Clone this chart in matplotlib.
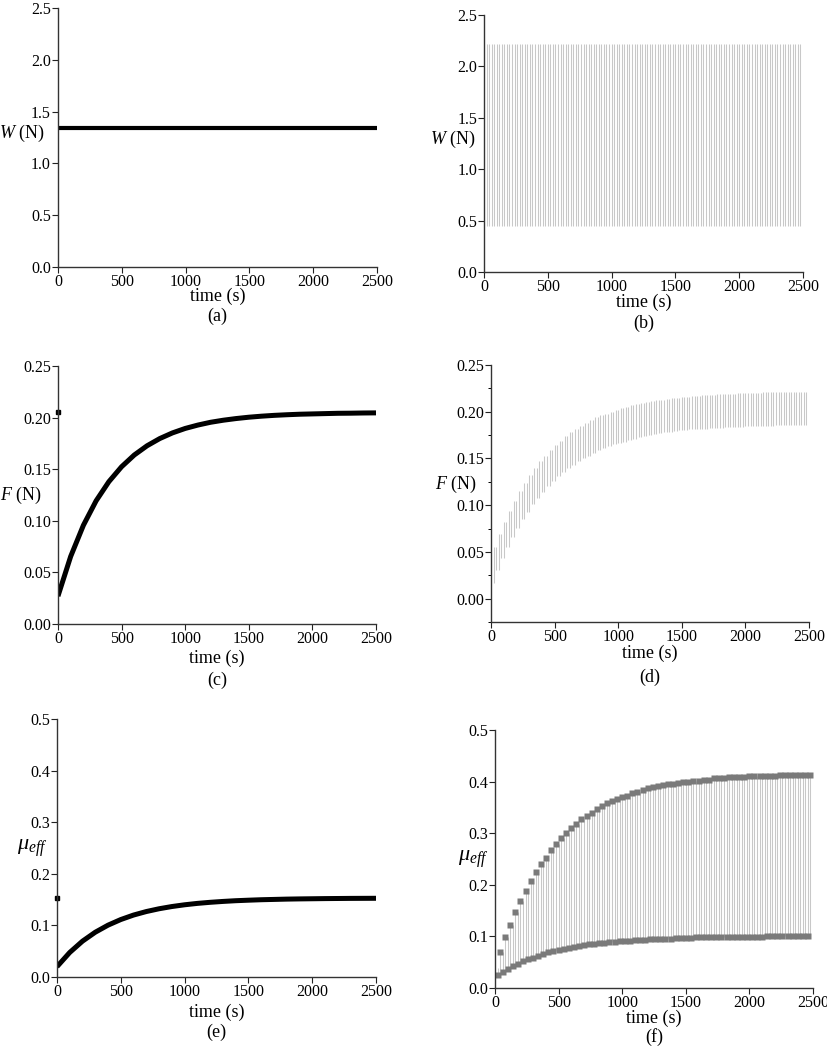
import numpy as np
import matplotlib
matplotlib.use("Agg")
import matplotlib.pyplot as plt
from matplotlib.ticker import MultipleLocator

plt.rcParams['font.family'] = ['Liberation Serif', 'DejaVu Serif']
plt.rcParams['mathtext.fontset'] = 'custom'
plt.rcParams['mathtext.rm'] = 'Liberation Serif'
plt.rcParams['mathtext.it'] = 'Liberation Serif:italic'

# (a) constant normal load
w_a_time = [0, 2500]
w_a = [1.34, 1.34]

# (b) oscillating normal load, half-period 20 s
w_low = 0.45
w_high = 2.22

# (c) friction force, constant load (every 100 s)
f_c = [0.0270, 0.0655, 0.0957, 0.1194, 0.1379, 0.1524, 0.1638, 0.1727, 0.1797,
       0.1852, 0.1895, 0.1928, 0.1955, 0.1975, 0.1991, 0.2004, 0.2014, 0.2022,
       0.2028, 0.2033, 0.2036, 0.2039, 0.2042, 0.2043, 0.2045, 0.2046]
f_c_dot = 0.205

# (d) friction force, oscillating load: lower (t = 0, 40, ...) / upper (t = 20, 60, ...)
f_d_low = [0.017, 0.031, 0.044, 0.055, 0.066, 0.076, 0.085, 0.093, 0.101, 0.108,
           0.114, 0.120, 0.126, 0.131, 0.135, 0.140, 0.143, 0.147, 0.150, 0.153,
           0.156, 0.159, 0.161, 0.163, 0.165, 0.167, 0.168, 0.170, 0.171, 0.173,
           0.174, 0.175, 0.176, 0.177, 0.178, 0.178, 0.179, 0.180, 0.180, 0.181,
           0.181, 0.182, 0.182, 0.183, 0.183, 0.183, 0.184, 0.184, 0.184, 0.184,
           0.185, 0.185, 0.185, 0.185, 0.185, 0.185, 0.186, 0.186, 0.186, 0.186,
           0.186, 0.186, 0.186]
f_d_high = [0.055, 0.069, 0.082, 0.094, 0.105, 0.115, 0.124, 0.132, 0.140, 0.147,
            0.153, 0.159, 0.164, 0.169, 0.174, 0.178, 0.182, 0.185, 0.188, 0.191,
            0.194, 0.196, 0.198, 0.200, 0.202, 0.204, 0.205, 0.207, 0.208, 0.209,
            0.210, 0.211, 0.212, 0.213, 0.214, 0.215, 0.215, 0.216, 0.216, 0.217,
            0.217, 0.218, 0.218, 0.218, 0.219, 0.219, 0.219, 0.219, 0.220, 0.220,
            0.220, 0.220, 0.220, 0.221, 0.221, 0.221, 0.221, 0.221, 0.221, 0.221,
            0.221, 0.221]

# (e) effective friction coefficient, constant load (every 100 s)
mu_e = [0.0200, 0.0476, 0.0695, 0.0868, 0.1005, 0.1114, 0.1201, 0.1269, 0.1323,
        0.1366, 0.1400, 0.1427, 0.1448, 0.1465, 0.1479, 0.1489, 0.1498, 0.1504,
        0.1510, 0.1514, 0.1517, 0.1520, 0.1522, 0.1524, 0.1525, 0.1526]
mu_e_dot = 0.153

# (f) effective friction coefficient, oscillating load
mu_f_high = [0.038, 0.069, 0.098, 0.122, 0.147, 0.169, 0.189, 0.207, 0.224, 0.240,
             0.253, 0.267, 0.280, 0.291, 0.300, 0.311, 0.318, 0.327, 0.333, 0.340,
             0.347, 0.353, 0.358, 0.362, 0.367, 0.371, 0.373, 0.378, 0.380, 0.384,
             0.387, 0.389, 0.391, 0.393, 0.396, 0.396, 0.398, 0.400, 0.400, 0.402,
             0.402, 0.404, 0.404, 0.407, 0.407, 0.407, 0.409, 0.409, 0.409, 0.409,
             0.411, 0.411, 0.411, 0.411, 0.411, 0.411, 0.413, 0.413, 0.413, 0.413,
             0.413, 0.413, 0.413]
mu_f_low = [0.025, 0.031, 0.037, 0.042, 0.047, 0.052, 0.056, 0.059, 0.063, 0.066,
            0.069, 0.072, 0.074, 0.076, 0.078, 0.080, 0.082, 0.083, 0.085, 0.086,
            0.087, 0.088, 0.089, 0.090, 0.091, 0.092, 0.092, 0.093, 0.094, 0.094,
            0.095, 0.095, 0.095, 0.096, 0.096, 0.097, 0.097, 0.097, 0.097, 0.098,
            0.098, 0.098, 0.098, 0.098, 0.099, 0.099, 0.099, 0.099, 0.099, 0.099,
            0.099, 0.099, 0.099, 0.100, 0.100, 0.100, 0.100, 0.100, 0.100, 0.100,
            0.100, 0.100]

t_step = 100
half_period = 20
osc_color = '#c8c8c8'


def interleave(first, second):
    n = len(first) + len(second)
    t = np.arange(n) * half_period
    y = np.empty(n)
    y[0::2] = first
    y[1::2] = second
    return t, y


def osc_lines(ax, t, y):
    # each swing of the load cycle drawn as an almost vertical stroke
    lo = np.minimum(y[:-1], y[1:])
    hi = np.maximum(y[:-1], y[1:])
    ax.vlines(t[1:], lo, hi, color=osc_color, lw=0.75)


def style(ax, ylim, ymajor, fmt, ylabel, lab_xy, letter, xl_y, let_y, yminor=None,
          ylab_size=13):
    ax.set_xlim(0, 2500)
    ax.set_ylim(*ylim)
    ax.xaxis.set_major_locator(MultipleLocator(500))
    ax.yaxis.set_major_locator(MultipleLocator(ymajor))
    if yminor:
        ax.yaxis.set_minor_locator(MultipleLocator(yminor))
    ax.yaxis.set_major_formatter(plt.FormatStrFormatter(fmt))
    for s in ['top', 'right']:
        ax.spines[s].set_visible(False)
    for s in ['left', 'bottom']:
        ax.spines[s].set_color('#333333')
        ax.spines[s].set_linewidth(1.0)
    ax.tick_params(direction='out', length=4, width=0.8, labelsize=11.5, pad=1,
                   colors='#222222', labelcolor='black')
    ax.tick_params(which='minor', direction='out', length=2.5, width=0.7, left=True)
    ax.set_ylabel(ylabel, rotation=0, fontsize=ylab_size, ha='right', va='center')
    ax.yaxis.set_label_coords(*lab_xy)
    ax.set_xlabel('time (s)', fontsize=13)
    ax.xaxis.set_label_coords(0.5, xl_y)
    ax.xaxis.label.set_va('center')
    ax.text(0.5, let_y, letter, transform=ax.transAxes, ha='center', va='center',
            fontsize=13)


fig = plt.figure(figsize=(8.28, 10.5), dpi=100)

# (a)
ax = fig.add_axes([0.0700, 0.7457, 0.3853, 0.2467])
ax.plot(w_a_time, w_a, color='black', lw=3.0, solid_capstyle='butt')
style(ax, (0, 2.5), 0.5, '%.1f', r'$W$ (N)', (-0.04, 0.515), '(a)', -0.112, -0.192)

# (b)
ax = fig.add_axes([0.5845, 0.7410, 0.3853, 0.2448])
nb = 2500 // half_period
tb = np.arange(nb) * half_period
wb = np.where(np.arange(nb) % 2 == 0, w_low, w_high)
osc_lines(ax, tb, wb)
style(ax, (0, 2.5), 0.5, '%.1f', r'$W$ (N)', (-0.025, 0.515), '(b)', -0.12, -0.198)

# (c)
ax = fig.add_axes([0.0700, 0.4057, 0.3841, 0.2457])
tc = np.arange(len(f_c)) * t_step
ax.plot(tc, f_c, color='black', lw=3.6, solid_capstyle='butt', solid_joinstyle='round')
ax.plot([0], [f_c_dot], 's', color='black', ms=2.5, clip_on=False)
style(ax, (0, 0.25), 0.05, '%.2f', r'$F$ (N)', (-0.052, 0.5), '(c)', -0.132, -0.217)

# (d)
ax = fig.add_axes([0.5930, 0.4076, 0.3841, 0.2448])
td, fd = interleave(f_d_low, f_d_high)
osc_lines(ax, td, fd)
style(ax, (-0.025, 0.25), 0.05, '%.2f', r'$F$ (N)', (-0.044, 0.537), '(d)', -0.12, -0.214,
      yminor=0.025)

# (e)
ax = fig.add_axes([0.0688, 0.0695, 0.3853, 0.2457])
te = np.arange(len(mu_e)) * t_step
ax.plot(te, mu_e, color='black', lw=3.6, solid_capstyle='butt', solid_joinstyle='round')
ax.plot([0], [mu_e_dot], 's', color='black', ms=2.5, clip_on=False)
style(ax, (0, 0.5), 0.1, '%.1f', r'$\mu_{eff}$', (-0.03, 0.5), '(e)', -0.136, -0.213,
      ylab_size=16)

# (f)
ax = fig.add_axes([0.5978, 0.0590, 0.3841, 0.2457])
tf, mf = interleave(mu_f_high, mu_f_low)
osc_lines(ax, tf, mf)
ax.plot(tf[0::2][1:], mu_f_high[1:], 's', color='#7a7a7a', ms=4.3, mec='none')
ax.plot(tf[1::2], mu_f_low, 's', color='#7a7a7a', ms=4.3, mec='none')
style(ax, (0, 0.5), 0.1, '%.1f', r'$\mu_{eff}$', (-0.02, 0.5), '(f)', -0.118, -0.19,
      ylab_size=16)

fig.savefig('out.png', dpi=100)
